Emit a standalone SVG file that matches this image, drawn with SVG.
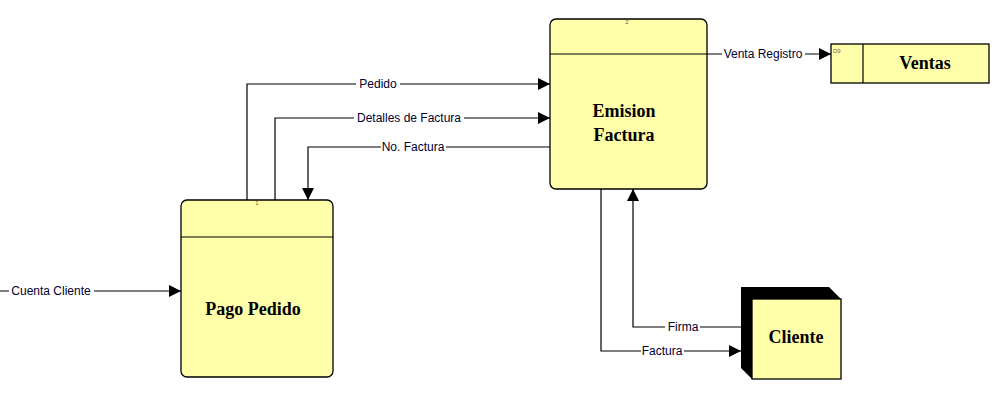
<svg xmlns="http://www.w3.org/2000/svg" width="997" height="401" viewBox="0 0 997 401">
<style>
.box{fill:#FFFFAA;stroke:#000;stroke-width:1.3}
.ln{fill:none;stroke:#000;stroke-width:1.2}
.lbl{font-family:"Liberation Sans",Arial,sans-serif;font-size:12px;fill:#000033}
.ttl{font-family:"Liberation Serif","Times New Roman",serif;font-size:18px;font-weight:bold;fill:#000;text-anchor:middle}
.tiny{font-family:"Liberation Sans",Arial,sans-serif;font-size:6px;fill:#806040}
.bg{fill:#fff}
</style>
<defs>
<marker id="ah" markerWidth="12" markerHeight="12" refX="12" refY="6" orient="auto" markerUnits="userSpaceOnUse">
<path d="M0,0 L12,6 L0,12 Z" fill="#000"/>
</marker>
</defs>
<rect width="997" height="401" fill="#fff"/>
<g id="connectors">
<path class="ln" d="M247,200 V84 H550" marker-end="url(#ah)"/>
<path class="ln" d="M275,200 V118 H550" marker-end="url(#ah)"/>
<path class="ln" d="M550,147 H308 V200" marker-end="url(#ah)"/>
<path class="ln" d="M707,54 H831" marker-end="url(#ah)"/>
<path class="ln" d="M0,291 H181" marker-end="url(#ah)"/>
<path class="ln" d="M741,327 H633 V189" marker-end="url(#ah)"/>
<path class="ln" d="M601,189 V351 H741" marker-end="url(#ah)"/>
<rect class="bg" x="356" y="77" width="44" height="14"/>
<text class="lbl" x="378" y="88" text-anchor="middle">Pedido</text>
<rect class="bg" x="354" y="111" width="110" height="14"/>
<text class="lbl" x="409" y="122" text-anchor="middle">Detalles de Factura</text>
<rect class="bg" x="381" y="140" width="65" height="14"/>
<text class="lbl" x="413" y="151" text-anchor="middle">No. Factura</text>
<rect class="bg" x="722" y="47" width="83" height="14"/>
<text class="lbl" x="763" y="58" text-anchor="middle">Venta Registro</text>
<rect class="bg" x="9" y="284" width="85" height="14"/>
<text class="lbl" x="51" y="295" text-anchor="middle">Cuenta Cliente</text>
<rect class="bg" x="665" y="320" width="35" height="14"/>
<text class="lbl" x="683" y="331" text-anchor="middle">Firma</text>
<rect class="bg" x="641" y="344" width="43" height="14"/>
<text class="lbl" x="662" y="355" text-anchor="middle">Factura</text>
</g>
<g id="emision">
<rect class="box" x="550" y="19" width="157" height="170" rx="6"/>
<line class="ln" x1="550" y1="54" x2="707" y2="54"/>
<text class="tiny" x="627" y="24" text-anchor="middle">2</text>
<text class="ttl" x="624" y="117">Emision</text>
<text class="ttl" x="624" y="141">Factura</text>
</g>
<g id="ventas">
<rect class="box" x="831" y="44" width="158" height="39"/>
<line class="ln" x1="863" y1="44" x2="863" y2="83"/>
<text class="tiny" x="833" y="53">D9</text>
<text class="ttl" x="925" y="69">Ventas</text>
</g>
<g id="pago">
<rect class="box" x="181" y="200" width="152" height="177" rx="6"/>
<line class="ln" x1="181" y1="237" x2="333" y2="237"/>
<text class="tiny" x="257" y="205" text-anchor="middle">1</text>
<text class="ttl" x="253" y="315">Pago Pedido</text>
</g>
<g id="cliente">
<polygon points="741,287 829,287 841,299 841,379 752,379 741,368" fill="#000"/>
<rect class="box" x="752" y="299" width="89" height="80"/>
<text class="ttl" x="796" y="343">Cliente</text>
</g>
</svg>
